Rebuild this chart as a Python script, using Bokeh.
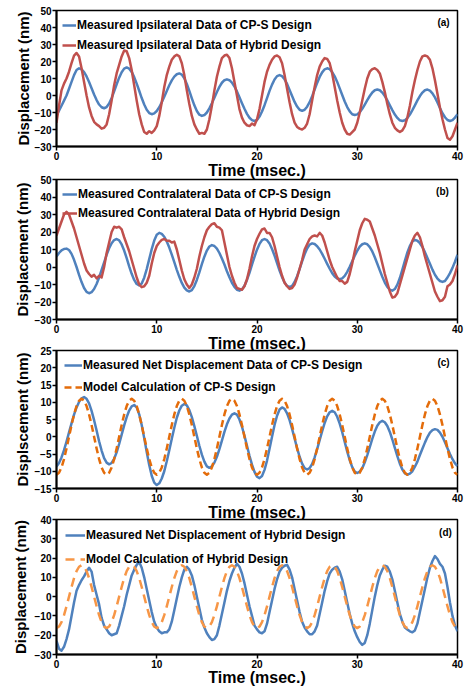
from bokeh.plotting import figure
from bokeh.layouts import column
from bokeh.models import Range1d, FixedTicker, Legend, LegendItem, Label
from bokeh.embed import file_html
from bokeh.resources import INLINE

# sampling instants (msec), every 0.25 ms from 0 to 40
time_ms = [i * 0.25 for i in range(161)]

# ---------------- panel (a): ipsilateral ----------------
a_cps = [
    -11.5, -9, -6, -3, 0, 4, 8, 12, 15, 16, 15.4, 13.8, 11.2, 7.9, 4.3, 0.6, -2.7, -5.3, -6.9, -7.5,
    -6.8, -4.7, -1.5, 2.4, 6.6, 10.5, 13.7, 15.8, 16.5, 15.8, 13.9, 10.8, 7.0, 2.8, -1.5, -5.3, -8.4, -10.3, -11, -10.5,
    -9.1, -6.9, -4.0, -0.7, 2.7, 6.0, 8.9, 11.1, 12.5, 13, 12.3, 10.1, 6.8, 2.7, -1.7, -5.8, -9.1, -11.3, -12, -11.5,
    -10.0, -7.6, -4.6, -1.3, 2.1, 5.1, 7.5, 9.0, 9.5, 9.0, 7.6, 5.3, 2.4, -1.0, -4.5, -7.8, -10.8, -13.1, -14.5, -15,
    -14.4, -12.4, -9.4, -5.7, -1.5, 2.7, 6.4, 9.4, 11.4, 12, 11.4, 9.5, 6.8, 3.3, -0.3, -3.8, -6.5, -8.4, -9, -8.4,
    -6.6, -3.9, -0.4, 3.5, 7.4, 10.9, 13.6, 15.4, 16, 15.5, 13.8, 11.3, 8.0, 4.2, 0.3, -3.5, -6.8, -9.3, -11.0, -11.5,
    -11.1, -9.8, -7.8, -5.3, -2.7, -0.3, 1.8, 3.1, 3.5, 3.1, 1.7, -0.3, -2.9, -5.8, -8.6, -11.2, -13.2, -14.6, -15, -14.6,
    -13.2, -11.2, -8.6, -5.8, -2.9, -0.3, 1.7, 3.1, 3.5, 2.9, 1.3, -1.1, -4.1, -7.4, -10.4, -12.8, -14.4, -15, -14.5, -13,
    -11,
]
a_hyb = [
    -16, -6, 3, 7, 10, 14, 19, 23.5, 25, 23, 16, 8, 0, -7, -12, -15.5, -17, -18, -19.5, -19,
    -17, -11, -3, 6, 13, 18, 23, 26.5, 26, 22, 15, 6, -3, -11, -17, -21.5, -22.5, -21, -22, -20.5,
    -18, -12, -4, 5, 12, 17, 21, 23, 24, 23, 19, 12, 3, -5, -12, -17, -20, -22.5, -22, -22.5,
    -20, -14, -6, 3, 11, 17, 22, 23.5, 24, 22, 16, 8, 0, -8, -13, -16, -17.5, -18, -16.5, -17.5,
    -14, -8, 0, 8, 14, 18, 21, 23, 23.5, 22.5, 19, 12, 4, -4, -11, -16, -18.5, -19.5, -20, -19,
    -16.5, -11, -3, 5, 12, 17, 20, 22, 21.5, 19, 13, 5, -3, -10, -16, -20, -22.5, -23, -21.5, -20,
    -16, -10, -3, 4, 10, 14, 15.5, 16, 15, 13, 8, 2, -5, -11, -16, -19, -20.5, -21.5, -20.5, -18,
    -13, -6, 2, 9, 15, 20, 23, 23.5, 23, 21, 16, 9, 1, -7, -14, -20, -25, -26, -24, -20,
    -16,
]

# ---------------- panel (b): contralateral ----------------
b_cps = [
    6, 8, 9.5, 10.3, 10.5, 9.7, 7.5, 4.1, 0.0, -4.5, -8.6, -12.0, -14.2, -15, -14.4, -12.6, -9.7, -6.0, -1.7, 2.7,
    6.9, 10.7, 13.6, 15.4, 16, 15.2, 12.9, 9.4, 5.1, 0.4, -3.9, -7.4, -9.7, -10.5, -9.4, -6.1, -1.2, 4.5, 10.2, 15.1,
    18.4, 19.5, 18.9, 17.3, 14.6, 11.1, 7.1, 2.8, -1.6, -5.6, -9.1, -11.8, -13.4, -14, -13.2, -10.9, -7.4, -3.1, 1.6, 5.9,
    9.4, 11.7, 12.5, 12.0, 10.5, 8.0, 4.9, 1.4, -2.4, -5.9, -9.0, -11.4, -13.0, -13.5, -12.8, -10.7, -7.4, -3.3, 1.3, 5.8,
    9.9, 13.2, 15.3, 16, 15.3, 13.4, 10.3, 6.5, 2.3, -2.0, -5.8, -8.9, -10.8, -11.5, -10.8, -8.6, -5.3, -1.2, 3.2, 7.3,
    10.6, 12.8, 13.5, 13.1, 11.9, 10.0, 7.5, 4.7, 1.8, -1.0, -3.5, -5.4, -6.6, -7, -6.5, -5.1, -2.8, 0.1, 3.3, 6.4,
    9.3, 11.6, 13.0, 13.5, 13.0, 11.4, 8.9, 5.6, 1.9, -1.9, -5.6, -8.9, -11.4, -13.0, -13.5, -12.6, -10.1, -6.3, -1.5, 3.5,
    8.3, 12.1, 14.6, 15.5, 15.0, 13.6, 11.4, 8.5, 5.2, 1.8, -1.5, -4.4, -6.6, -8.0, -8.5, -8, -6, -3.5, -0.5, 3,
    7,
]
b_hyb = [
    18, 22, 26, 30, 31.5, 30, 26, 22, 17, 12, 7, 2, -2, -4, -5.5, -4.5, -6.5, -5, -6, 0,
    8, 14, 20, 23, 22.5, 23, 21.5, 17, 13, 9, 4, -1, -6, -10, -11.5, -11, -9, -5, 2, 8,
    12, 14, 15.5, 16, 15, 15, 14, 14.5, 10, 4, -2, -7, -10, -12, -10, -6, -1, 6, 12, 17,
    21, 23, 24.5, 25, 23, 22.5, 21, 14, 7, 0, -5, -9, -12, -12.5, -13, -11, -7, -1, 6, 12,
    16, 19, 21.5, 22, 19.5, 19.5, 17, 12, 6, 0, -5, -9, -11, -12.5, -12, -10, -6, -1, 4, 10,
    13, 16, 17.5, 18, 17.5, 19.5, 18, 14, 9, 4, 0, -3, -6, -8, -8, -9.5, -8.5, -4, 2, 9,
    15, 21, 25, 27.5, 27, 26, 22, 18, 13, 8, 2, -4, -9, -14, -17.5, -17, -15, -10, -5, 0,
    5, 10, 15, 18, 19.5, 17, 12, 6, 1, -4, -9, -14, -17, -19.5, -19, -17, -11, -10, -8, -4,
    1,
]

# ---------------- panel (c): net displacement, CP-S ----------------
c_meas = [
    -8.65, -7.6, -6.0, -3.9, -1.4, 1.25, 3.9, 6.4, 8.5, 10.1, 11.15, 11.5, 11.0, 9.7, 7.5, 4.8, 1.8, -1.3, -4.0, -6.2,
    -7.5, -8, -7.6, -6.4, -4.5, -2.1, 0.6, 3.3, 5.7, 7.6, 8.8, 9.2, 8.5, 6.5, 3.4, -0.4, -4.4, -8.2, -11.3, -13.3,
    -14, -13.5, -12.1, -10.0, -7.1, -3.9, -0.6, 2.6, 5.5, 7.6, 9.0, 9.5, 9.1, 7.7, 5.7, 3.1, 0.3, -2.6, -5.2, -7.2,
    -8.6, -9, -8.6, -7.5, -5.8, -3.6, -1.1, 1.4, 3.6, 5.3, 6.4, 6.8, 6.4, 5.0, 2.9, 0.3, -2.6, -5.5, -8.1, -10.2,
    -11.6, -12, -11.4, -9.6, -6.9, -3.5, 0.0, 3.4, 6.1, 7.9, 8.5, 8.1, 6.8, 4.8, 2.3, -0.5, -3.3, -5.8, -7.8, -9.1,
    -9.5, -9.1, -7.9, -6.0, -3.6, -1.0, 1.6, 4.0, 5.9, 7.1, 7.5, 7.1, 5.8, 3.8, 1.3, -1.5, -4.3, -6.8, -8.8, -10.1,
    -10.5, -10.1, -9.1, -7.4, -5.3, -3.0, -0.6, 1.5, 3.2, 4.2, 4.6, 4.2, 3.1, 1.4, -0.8, -3.2, -5.6, -7.8, -9.5, -10.6,
    -11, -10.7, -10.0, -8.7, -7.2, -5.3, -3.5, -1.7, -0.1, 1.2, 1.9, 2.2, 2.0, 1.2, 0.0, -1.6, -3.3, -5.0, -6.5, -7.7,
    -8.5,
]
c_model = [
    -11, -10.46, -8.9, -6.47, -3.4, 0, 3.4, 6.47, 8.9, 10.46, 11, 10.46, 8.9, 6.47, 3.4, 0, -3.4, -6.47, -8.9, -10.46,
    -11, -10.46, -8.9, -6.47, -3.4, 0, 3.4, 6.47, 8.9, 10.46, 11, 10.46, 8.9, 6.47, 3.4, 0, -3.4, -6.47, -8.9, -10.46,
    -11, -10.46, -8.9, -6.47, -3.4, 0, 3.4, 6.47, 8.9, 10.46, 11, 10.46, 8.9, 6.47, 3.4, 0, -3.4, -6.47, -8.9, -10.46,
    -11, -10.46, -8.9, -6.47, -3.4, 0, 3.4, 6.47, 8.9, 10.46, 11, 10.46, 8.9, 6.47, 3.4, 0, -3.4, -6.47, -8.9, -10.46,
    -11, -10.46, -8.9, -6.47, -3.4, 0, 3.4, 6.47, 8.9, 10.46, 11, 10.46, 8.9, 6.47, 3.4, 0, -3.4, -6.47, -8.9, -10.46,
    -11, -10.46, -8.9, -6.47, -3.4, 0, 3.4, 6.47, 8.9, 10.46, 11, 10.46, 8.9, 6.47, 3.4, 0, -3.4, -6.47, -8.9, -10.46,
    -11, -10.46, -8.9, -6.47, -3.4, 0, 3.4, 6.47, 8.9, 10.46, 11, 10.46, 8.9, 6.47, 3.4, 0, -3.4, -6.47, -8.9, -10.46,
    -11, -10.46, -8.9, -6.47, -3.4, 0, 3.4, 6.47, 8.9, 10.46, 11, 10.46, 8.9, 6.47, 3.4, 0, -3.4, -6.47, -8.9, -10.46,
    -11,
]

# ---------------- panel (d): net displacement, Hybrid ----------------
d_meas = [
    -23, -27, -28, -26, -22, -17, -10, -3, 3, 6, 8.5, 10.5, 13, 15, 13, 6, 1, -4, -11, -15,
    -17, -19, -20, -19.5, -19, -15, -10, -5, 1, 6, 11, 14, 16.5, 18, 15, 10, 4, -2, -8, -13,
    -16, -18, -19, -18.5, -18.5, -17, -13, -7, -1, 5, 10, 14, 15.5, 14, 11, 6, 0, -6, -12, -16,
    -19, -21, -22.5, -22, -20, -15, -9, -3, 3, 8, 12, 15, 17, 15.5, 12, 7, 1, -5, -10, -15,
    -17, -18.5, -19, -18, -14, -8, -2, 4, 9, 13, 15, 16, 16.5, 14, 10, 4, -2, -8, -13, -16,
    -18, -19.5, -19.5, -18, -15, -9, -3, 3, 8, 12, 14, 15, 15.5, 13, 9, 3, -3, -9, -14, -18,
    -21, -23.5, -25, -24, -20, -14, -7, 0, 6, 11, 14, 16, 15.5, 13, 9, 3, -3, -9, -13, -16,
    -17, -18, -18.5, -17.5, -14, -8, -2, 4, 10, 15, 18.5, 21, 19.5, 17, 15.5, 12, 5, -3, -10, -15,
    -18,
]
d_model = [
    -16.3, -15.5, -13.2, -9.6, -5.0, 0, 5.0, 9.6, 13.2, 15.5, 16.3, 15.5, 13.2, 9.6, 5.0, 0, -5.0, -9.6, -13.2, -15.5,
    -16.3, -15.5, -13.2, -9.6, -5.0, 0, 5.0, 9.6, 13.2, 15.5, 16.3, 15.5, 13.2, 9.6, 5.0, 0, -5.0, -9.6, -13.2, -15.5,
    -16.3, -15.5, -13.2, -9.6, -5.0, 0, 5.0, 9.6, 13.2, 15.5, 16.3, 15.5, 13.2, 9.6, 5.0, 0, -5.0, -9.6, -13.2, -15.5,
    -16.3, -15.5, -13.2, -9.6, -5.0, 0, 5.0, 9.6, 13.2, 15.5, 16.3, 15.5, 13.2, 9.6, 5.0, 0, -5.0, -9.6, -13.2, -15.5,
    -16.3, -15.5, -13.2, -9.6, -5.0, 0, 5.0, 9.6, 13.2, 15.5, 16.3, 15.5, 13.2, 9.6, 5.0, 0, -5.0, -9.6, -13.2, -15.5,
    -16.3, -15.5, -13.2, -9.6, -5.0, 0, 5.0, 9.6, 13.2, 15.5, 16.3, 15.5, 13.2, 9.6, 5.0, 0, -5.0, -9.6, -13.2, -15.5,
    -16.3, -15.5, -13.2, -9.6, -5.0, 0, 5.0, 9.6, 13.2, 15.5, 16.3, 15.5, 13.2, 9.6, 5.0, 0, -5.0, -9.6, -13.2, -15.5,
    -16.3, -15.5, -13.2, -9.6, -5.0, 0, 5.0, 9.6, 13.2, 15.5, 16.3, 15.5, 13.2, 9.6, 5.0, 0, -5.0, -9.6, -13.2, -15.5,
    -16.3,
]

x_ticks = [0, 10, 20, 30, 40]
y_ticks_ab = [-30, -20, -10, 0, 10, 20, 30, 40, 50]
y_ticks_c = [-15, -10, -5, 0, 5, 10, 15, 20, 25]
y_ticks_d = [-30, -20, -10, 0, 10, 20, 30, 40]

x_title = "Time (msec.)"
y_title = "Displacement (nm)"
y_title_c = "Displscement (nm)"

BLUE = "#4F81BD"
RED = "#C0504D"
ORANGE_C = "#E46C0A"
ORANGE_D = "#F79646"
FONT = "Liberation Sans"


def make_panel(height, border, yticks, ytitle, ylab_standoff, xlab_standoff, series, tag,
               tag_off, leg_pad, leg_spacing, leg_h, glyph_w):
    left, right, top, bottom = border
    p = figure(width=469, height=height, output_backend="svg", toolbar_location=None,
               x_range=Range1d(0, 40), y_range=Range1d(yticks[0], yticks[-1]),
               min_border_left=left, min_border_right=right,
               min_border_top=top, min_border_bottom=bottom)
    p.background_fill_color = "white"
    p.border_fill_alpha = 0
    p.outline_line_color = "black"
    p.outline_line_width = 1.5
    p.xgrid.visible = False
    p.ygrid.visible = False

    for ax in (p.xaxis[0], p.yaxis[0]):
        ax.axis_line_width = 2
        ax.axis_line_color = "black"
        ax.major_tick_line_width = 1.5
        ax.major_tick_line_color = "black"
        ax.major_tick_out = 4
        ax.major_tick_in = 0
        ax.minor_tick_line_color = None
        ax.major_label_text_font = FONT
        ax.major_label_text_font_style = "bold"
        ax.major_label_text_font_size = "10px"
        ax.major_label_text_color = "black"
        ax.major_label_standoff = 1
        ax.axis_label_text_font = FONT
        ax.axis_label_text_font_style = "bold"
        ax.axis_label_text_color = "black"

    p.xaxis[0].ticker = FixedTicker(ticks=x_ticks)
    p.xaxis[0].axis_label = x_title
    p.xaxis[0].axis_label_text_font_size = "16px"
    p.xaxis[0].axis_label_standoff = xlab_standoff
    p.yaxis[0].ticker = FixedTicker(ticks=yticks)
    p.yaxis[0].axis_label = ytitle
    p.yaxis[0].axis_label_text_font_size = "15px"
    p.yaxis[0].axis_label_standoff = ylab_standoff

    items = []
    for label, ys, color, dash in series:
        r = p.line(time_ms, ys, line_color=color, line_width=2.5, line_dash=dash,
                   line_join="round")
        items.append(LegendItem(label=label, renderers=[r]))

    leg = Legend(items=items, location="top_left")
    leg.background_fill_alpha = 0
    leg.border_line_alpha = 0
    leg.margin = 0
    leg.padding = leg_pad
    leg.spacing = leg_spacing
    leg.glyph_width = glyph_w
    leg.glyph_height = leg_h
    leg.label_height = leg_h
    leg.label_standoff = 1
    leg.label_text_font = FONT
    leg.label_text_font_style = "bold"
    leg.label_text_font_size = "12px"
    leg.label_text_color = "black"
    p.add_layout(leg)

    p.add_layout(Label(x=40, y=yticks[-1], x_offset=tag_off[0], y_offset=tag_off[1],
                       text=tag, text_align="center", text_baseline="middle",
                       text_font=FONT, text_font_style="bold", text_font_size="10px",
                       text_color="black"))
    return p


pa = make_panel(181, (56, 12, 10, 20), y_ticks_ab, y_title, 0, -1,
                [("Measured Ipsilateral Data of CP-S Design", a_cps, BLUE, "solid"),
                 ("Measured Ipsilateral Data of Hybrid Design", a_hyb, RED, "solid")],
                "(a)", (-14, -12), 6, 2, 18, 14)
pb = make_panel(179, (51, 6, 4, 20), y_ticks_ab, y_title, 1, -1,
                [("Measured Contralateral Data of CP-S Design", b_cps, BLUE, "solid"),
                 ("Measured Contralateral Data of Hybrid Design", b_hyb, RED, "solid")],
                "(b)", (-15, -12), 6, 1, 18, 15)
pc = make_panel(177, (51, 7, 4, 20), y_ticks_c, y_title_c, 1, -1,
                [("Measured Net Displacement Data of CP-S Design", c_meas, BLUE, "solid"),
                 ("Model Calculation of CP-S Design", c_model, ORANGE_C, "7 4")],
                "(c)", (-14, -12), 8, 8, 14, 18)
pd_ = make_panel(173, (50, 5, 4, 20), y_ticks_d, y_title, 3, -2,
                 [("Measured Net Displacement of Hybrid Design", d_meas, BLUE, "solid"),
                  ("Model Calculation of Hybrid Design", d_model, ORANGE_D, "9 6")],
                 "(d)", (-12, -13), 9, 10, 14, 20)

# pull each panel up into the empty strip left under the x-axis title above it
pb.margin = (-6, 0, 0, 0)
pc.margin = (-8, 0, 0, 0)
pd_.margin = (-8, 0, 0, 0)

layout = column(pa, pb, pc, pd_, spacing=0)
open("out.html", "w").write(file_html(layout, INLINE))
